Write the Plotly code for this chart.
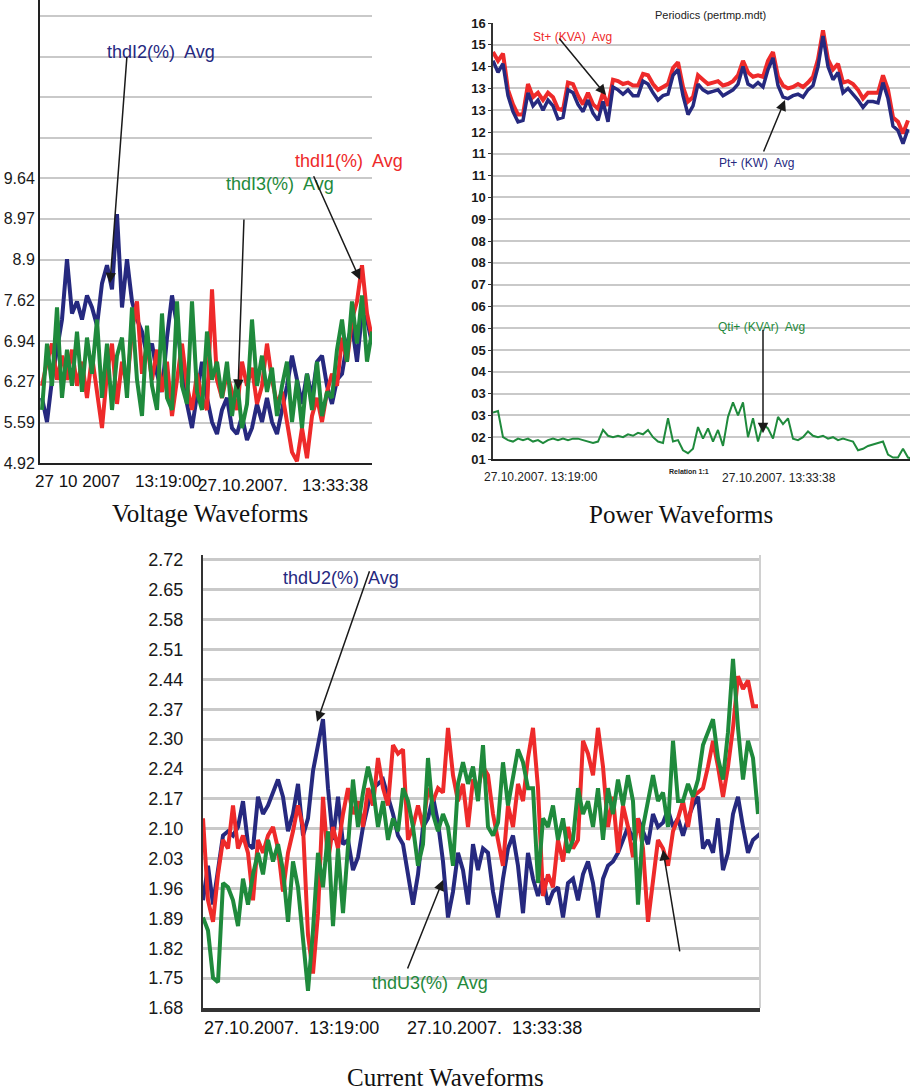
import plotly.graph_objects as go

W, H = 914, 1092
NAVY = "#26297f"
RED = "#ee2a2a"
GREEN = "#1f8a3c"
GRID = "#c9c9c9"
SANS = "Liberation Sans, Arial, sans-serif"
NARROW = "Liberation Sans Narrow, Arial Narrow, Liberation Sans, sans-serif"
SERIF = "Liberation Serif, Times New Roman, serif"

# ---------------- Voltage waveforms (thdI, %) ----------------
V_THDI2 = [6.0, 5.6, 6.3, 6.8, 7.3, 8.3, 7.4, 7.6, 7.3, 7.7, 7.5, 7.2, 7.9, 8.2, 7.8, 9.05, 7.5, 8.3, 7.6, 7.3,
           7.1, 6.7, 6.9, 6.4, 6.1, 7.0, 7.7, 7.2, 6.5, 5.9, 5.5, 6.1, 6.6, 6.0, 5.6, 5.4, 5.8, 6.0, 5.5, 5.4,
           5.7, 5.3, 5.5, 5.9, 5.6, 6.0, 5.6, 5.4, 5.8, 6.2, 6.7, 6.3, 5.9, 6.4, 6.0, 6.6, 6.7, 6.2, 5.9, 6.3,
           6.4, 6.9, 7.2, 6.6, 7.4, 7.3, 6.9]
V_THDI1 = [6.2, 6.6, 6.9, 6.3, 6.7, 6.3, 6.8, 6.2, 6.6, 6.0, 6.7, 6.1, 5.5, 6.4, 6.9, 5.9, 6.6, 6.2, 7.1, 7.6,
           6.4, 6.9, 6.3, 6.8, 6.1, 6.6, 5.7, 6.3, 6.9, 6.2, 5.8, 6.4, 6.0, 5.8, 7.8, 6.3, 6.0, 6.4, 6.1, 5.8,
           6.6, 6.2, 6.5, 5.9, 6.2, 6.9, 6.3, 5.9, 6.1, 5.6, 5.1, 4.95, 5.5, 5.0, 5.7, 6.0, 5.6, 6.1, 6.4, 6.2,
           7.0, 6.6, 7.3, 7.6, 8.2, 7.4, 7.0]
V_THDI3 = [5.8, 6.9, 6.2, 7.5, 6.0, 6.8, 6.2, 7.1, 6.1, 7.0, 6.4, 7.3, 6.0, 6.9, 5.8, 6.7, 7.0, 6.0, 7.5, 6.3,
           5.7, 7.2, 6.2, 5.8, 7.4, 6.0, 5.8, 7.6, 6.2, 5.9, 7.6, 6.1, 5.8, 7.1, 6.3, 6.6, 6.0, 6.6, 5.7, 6.3,
           5.5, 5.9, 7.3, 6.2, 6.7, 6.1, 6.5, 5.7, 6.2, 6.6, 5.6, 6.3, 5.5, 6.4, 5.8, 6.6, 5.7, 6.1, 6.0, 6.8,
           7.3, 6.6, 7.6, 6.9, 7.7, 6.6, 7.1]
V_TICKVALS = [4.92, 5.59, 6.27, 6.94, 7.62, 8.29, 8.97, 9.64, 10.31, 10.99, 11.66, 12.33]
V_TICKTEXT = ["4.92", "5.59", "6.27", "6.94", "7.62", "8.9", "8.97", "9.64", "", "", "", ""]
V_XLABELS = ["27 10 2007", "13:19:00", "27.10.2007.", "13:33:38"]

# ---------------- Power waveforms ----------------
P_ST = [15.0, 14.7, 14.95, 13.7, 13.2, 12.85, 12.85, 13.9, 13.45, 13.6, 13.35, 13.6, 13.45, 13.05, 13.0, 13.95,
        13.9, 13.5, 13.2, 13.6, 13.2, 13.05, 13.6, 13.15, 14.05, 14.0, 13.9, 13.95, 13.85, 13.85, 14.25, 14.2,
        13.9, 13.7, 13.8, 13.9, 14.45, 14.65, 13.8, 13.3, 13.45, 14.2, 14.05, 13.9, 13.95, 14.0, 13.85, 13.9,
        14.0, 14.2, 14.7, 14.3, 14.15, 14.2, 14.15, 14.7, 15.0, 14.15, 13.85, 13.75, 13.8, 13.9, 13.8, 13.95,
        14.15, 14.75, 15.75, 14.75, 14.4, 14.6, 13.95, 14.0, 13.9, 13.7, 13.4, 13.6, 13.6, 13.6, 14.2, 13.7,
        12.75, 12.6, 12.2, 12.65]
P_PT = [14.7, 14.3, 14.6, 13.5, 12.95, 12.6, 12.65, 13.6, 13.15, 13.35, 13.0, 13.35, 13.15, 12.7, 12.75, 13.7,
        13.6, 13.2, 12.95, 13.35, 12.9, 12.65, 13.3, 12.6, 13.8, 13.7, 13.55, 13.7, 13.5, 13.5, 14.0, 13.9,
        13.6, 13.35, 13.5, 13.55, 14.2, 14.4, 13.5, 12.85, 13.15, 13.9, 13.7, 13.6, 13.65, 13.7, 13.5, 13.6,
        13.7, 13.9, 14.5, 13.9, 13.8, 13.95, 13.8, 14.4, 14.8, 13.85, 13.45, 13.4, 13.5, 13.55, 13.45, 13.7,
        13.85, 14.5, 15.55, 14.5, 14.05, 14.3, 13.6, 13.75, 13.55, 13.35, 13.1, 13.3, 13.3, 13.25, 13.95, 13.4,
        12.45, 12.3, 11.85, 12.35]
P_QTI = [2.6, 2.65, 1.75, 1.65, 1.6, 1.7, 1.65, 1.7, 1.6, 1.65, 1.55, 1.65, 1.7, 1.65, 1.7, 1.65, 1.7, 1.7,
         1.65, 1.6, 1.55, 1.6, 2.0, 1.8, 1.75, 1.8, 1.75, 1.85, 1.8, 1.9, 1.85, 2.0, 1.75, 1.6, 1.55, 2.4,
         1.6, 1.65, 1.3, 1.2, 1.35, 2.1, 1.7, 2.05, 1.6, 2.0, 1.45, 2.45, 2.95, 2.5, 2.95, 1.75, 2.4, 1.6,
         2.2, 2.05, 1.7, 2.45, 2.2, 2.4, 1.7, 1.65, 1.75, 1.95, 1.8, 1.75, 1.8, 1.7, 1.75, 1.65, 1.7, 1.65,
         1.6, 1.3, 1.35, 1.45, 1.5, 1.55, 1.6, 1.15, 1.05, 1.05, 1.35, 1.05, 1.0]
P_TICKTEXT = ["01", "02", "03", "03", "04", "05", "06", "06", "07", "08", "08",
              "09", "10", "11", "11", "12", "13", "13", "14", "15", "16"]
P_TICKVALS = [1 + 0.75 * k for k in range(len(P_TICKTEXT))]
P_XLABELS = ["27.10.2007. 13:19:00", "27.10.2007. 13:33:38"]

# ---------------- Current waveforms (thdU, %) ----------------
C_THDU2 = [1.93, 2.01, 1.92, 2.00, 2.08, 2.09, 2.08, 2.10, 2.16, 2.06, 2.05, 2.17, 2.13, 2.15, 2.18, 2.21,
           2.17, 2.09, 2.13, 2.20, 2.08, 2.12, 2.23, 2.29, 2.35, 2.19, 2.07, 2.17, 2.06, 2.07, 2.00, 2.03,
           2.10, 2.15, 2.19, 2.20, 2.21, 2.17, 2.13, 2.08, 2.06, 1.99, 1.92, 1.99, 2.10, 2.12, 2.17, 2.11,
           2.02, 1.89, 1.95, 2.04, 2.00, 1.92, 2.06, 2.00, 2.05, 2.04, 1.95, 1.89, 1.98, 2.05, 2.08, 2.01,
           1.90, 2.04, 1.98, 1.94, 1.98, 1.92, 1.95, 1.96, 1.89, 1.97, 1.98, 1.93, 1.99, 2.02, 1.97, 1.89,
           1.98, 2.01, 2.02, 2.04, 2.07, 2.10, 2.07, 2.12, 2.09, 2.06, 2.13, 2.10, 2.11, 2.14, 2.10, 2.12,
           2.08, 2.12, 2.15, 2.17, 2.05, 2.07, 2.04, 2.12, 2.00, 2.04, 2.13, 2.17, 2.10, 2.04, 2.07, 2.08, 2.09]
C_THDU1 = [2.12, 1.93, 1.88, 1.99, 2.07, 2.05, 2.15, 2.05, 2.08, 2.04, 1.93, 2.07, 2.04, 2.08, 2.10, 2.05,
           1.95, 2.04, 2.09, 2.15, 2.10, 1.85, 1.76, 1.90, 2.17, 2.02, 2.10, 2.05, 2.13, 2.19, 2.13, 2.16,
           2.10, 2.19, 2.15, 2.26, 2.19, 2.15, 2.29, 2.27, 2.28, 2.07, 2.10, 2.15, 2.10, 2.19, 2.16, 2.19,
           2.18, 2.33, 2.22, 2.16, 2.20, 2.10, 2.21, 2.19, 2.24, 2.22, 2.13, 2.07, 2.01, 2.15, 2.10, 2.20,
           2.16, 2.26, 2.33, 2.19, 1.94, 1.99, 1.96, 2.07, 2.02, 2.10, 2.05, 2.07, 2.30, 2.27, 2.22, 2.33,
           2.24, 2.10, 2.17, 2.04, 2.15, 2.10, 2.03, 2.12, 2.05, 1.88, 1.98, 2.07, 2.05, 2.01, 2.09, 2.12,
           2.16, 2.10, 2.17, 2.18, 2.19, 2.24, 2.30, 2.24, 2.17, 2.24, 2.33, 2.45, 2.42, 2.44, 2.38, 2.38]
C_THDU3 = [1.89, 1.86, 1.75, 1.74, 1.97, 1.96, 1.93, 1.87, 1.98, 1.92, 1.99, 2.04, 1.99, 2.07, 2.02, 2.06,
           2.00, 1.88, 2.02, 1.96, 1.84, 1.72, 1.86, 2.04, 1.96, 2.09, 1.87, 2.05, 1.90, 2.07, 2.21, 2.10,
           2.18, 2.24, 2.19, 2.10, 2.16, 2.07, 2.12, 2.09, 2.19, 2.16, 2.10, 2.01, 2.06, 2.26, 2.13, 2.09,
           2.13, 2.10, 2.01, 2.20, 2.25, 2.20, 2.24, 2.16, 2.29, 2.10, 2.08, 2.11, 2.25, 2.15, 2.21, 2.28,
           2.25, 2.19, 2.19, 1.97, 2.12, 2.10, 2.15, 2.07, 2.12, 2.04, 2.07, 2.19, 2.13, 2.16, 2.10, 2.19,
           2.07, 2.19, 2.13, 2.21, 2.15, 2.22, 2.16, 1.92, 2.10, 2.16, 2.22, 2.16, 2.18, 2.10, 2.30, 2.16,
           2.16, 2.20, 2.17, 2.21, 2.29, 2.32, 2.35, 2.26, 2.21, 2.32, 2.49, 2.33, 2.21, 2.30, 2.26, 2.13]
C_TICKTEXT = ["1.68", "1.75", "1.82", "1.89", "1.96", "2.03", "2.10", "2.17",
              "2.24", "2.30", "2.37", "2.44", "2.51", "2.58", "2.65", "2.72"]
C_TICKVALS = [1.68 + 0.0693 * k for k in range(len(C_TICKTEXT))]
C_XLABELS = ["27.10.2007.  13:19:00", "27.10.2007.  13:33:38"]


def px(x):
    return x / W


def py(y):
    return 1 - y / H


def idx(s):
    return list(range(len(s)))


fig = go.Figure()

# Voltage traces
for ser, col in [(V_THDI2, NAVY), (V_THDI1, RED), (V_THDI3, GREEN)]:
    fig.add_trace(go.Scatter(x=idx(ser), y=ser, xaxis="x", yaxis="y", mode="lines",
                             line=dict(color=col, width=4), showlegend=False, hoverinfo="skip"))
# Power traces
fig.add_trace(go.Scatter(x=idx(P_QTI), y=P_QTI, xaxis="x2", yaxis="y2", mode="lines",
                         line=dict(color=GREEN, width=2), showlegend=False, hoverinfo="skip"))
fig.add_trace(go.Scatter(x=idx(P_ST), y=P_ST, xaxis="x2", yaxis="y2", mode="lines",
                         line=dict(color=RED, width=4), showlegend=False, hoverinfo="skip"))
fig.add_trace(go.Scatter(x=idx(P_PT), y=P_PT, xaxis="x2", yaxis="y2", mode="lines",
                         line=dict(color=NAVY, width=3.5), showlegend=False, hoverinfo="skip"))
# Current traces
for ser, col in [(C_THDU2, NAVY), (C_THDU1, RED), (C_THDU3, GREEN)]:
    fig.add_trace(go.Scatter(x=idx(ser), y=ser, xaxis="x3", yaxis="y3", mode="lines",
                             line=dict(color=col, width=4), showlegend=False, hoverinfo="skip"))

axis_common = dict(zeroline=False, fixedrange=True, automargin=False)

fig.update_layout(
    width=W, height=H, autosize=False,
    margin=dict(l=0, r=0, t=0, b=0, autoexpand=False),
    paper_bgcolor="white", plot_bgcolor="white",
    # Voltage
    xaxis=dict(domain=[px(40), px(372)], range=[-0.4, 66], anchor="y", showgrid=False,
               showline=True, linecolor="#222", linewidth=2, showticklabels=False, ticks="", **axis_common),
    yaxis=dict(domain=[py(463), 1], range=[4.92, 12.6], anchor="x", tickvals=V_TICKVALS,
               ticktext=V_TICKTEXT, showgrid=True, gridcolor=GRID, gridwidth=2,
               showline=True, linecolor="#222", linewidth=2, ticks="",
               tickfont=dict(family=SANS, size=16, color="#1a1a1a"), **axis_common),
    # Power
    xaxis2=dict(domain=[px(493), px(910)], range=[0, 83.4], anchor="y2", showgrid=False,
                showline=True, linecolor="#222", linewidth=2, showticklabels=False, ticks="", **axis_common),
    yaxis2=dict(domain=[py(459), py(23)], range=[1, 16], anchor="x2", tickvals=P_TICKVALS,
                ticktext=P_TICKTEXT, showgrid=True, gridcolor=GRID, gridwidth=1.5,
                showline=True, linecolor="#333", linewidth=1.5, ticks="outside", ticklen=3,
                tickcolor="#333",
                tickfont=dict(family=NARROW, size=13, color="#1a1a1a", weight="bold"), **axis_common),
    # Current
    xaxis3=dict(domain=[px(203), px(760)], range=[0, 111.4], anchor="y3", showgrid=False,
                showline=True, linecolor="#333", linewidth=4, showticklabels=False, ticks="", **axis_common),
    yaxis3=dict(domain=[py(1008), py(555)], range=[1.68, 2.731], anchor="x3", tickvals=C_TICKVALS,
                ticktext=C_TICKTEXT, showgrid=True, gridcolor=GRID, gridwidth=3,
                showline=True, linecolor="#333", linewidth=2, ticks="", ticklabelstandoff=14,
                tickfont=dict(family=SANS, size=18, color="#1a1a1a"), **axis_common),
)

# right border line of current panel
fig.add_shape(type="line", xref="paper", yref="paper", x0=px(760), x1=px(760), y0=py(1008), y1=py(555),
              line=dict(color="#d0d0d0", width=2))

ann = []


def text(x, y, s, size, color="#111", family=SANS, xanchor="center", weight="normal"):
    ann.append(dict(x=px(x), y=py(y), xref="paper", yref="paper", text=s, showarrow=False,
                    xanchor=xanchor, yanchor="middle",
                    font=dict(family=family, size=size, color=color, weight=weight)))


def arrow(xa, ya, hx, hy, ax, ay):
    ann.append(dict(x=hx, y=hy, xref=xa, yref=ya, ax=ax, ay=ay, text="", showarrow=True,
                    arrowhead=2, arrowsize=1.4, arrowwidth=1.5, arrowcolor="#1a1a1a"))


# Voltage texts
text(161, 52, "thdI2(%)  Avg", 18, NAVY)
text(349, 161, "thdI1(%)  Avg", 18, RED)
text(280, 184, "thdI3(%)  Avg", 18, GREEN)
arrow("x", "y", 13.6, 7.9, 17, -228)
arrow("x", "y", 63.6, 7.96, -47, -105)
arrow("x", "y", 39.2, 6.13, 6, -172)
text(33, 481, V_XLABELS[0], 17, xanchor="left")
text(133, 481, V_XLABELS[1], 17, xanchor="left")
text(196, 486, V_XLABELS[2], 17, xanchor="left")
text(300, 486, V_XLABELS[3], 17, xanchor="left")
text(210, 513, "Voltage Waveforms", 25, "#111", SERIF)

# Power texts
text(710, 15, "Periodics (pertmp.mdt)", 11, "#222", NARROW)
text(572, 37, "St+ (KVA)  Avg", 12, RED, NARROW)
text(756, 163, "Pt+ (KW)  Avg", 12, NAVY, NARROW)
text(761, 327, "Qti+ (KVAr)  Avg", 12, GREEN, NARROW)
arrow("x2", "y2", 22.6, 13.52, -48, -58)
arrow("x2", "y2", 58.4, 13.35, -22, 53)
arrow("x2", "y2", 54, 1.89, 0, -105)
text(541, 477, P_XLABELS[0], 12, "#222", NARROW)
text(779, 478, P_XLABELS[1], 12, "#222", NARROW)
text(689, 471, "Relation 1:1", 7, "#222", SANS, weight="bold")
text(681, 514, "Power Waveforms", 25, "#111", SERIF)

# Current texts
text(341, 578, "thdU2(%)  Avg", 18, NAVY)
text(430, 983, "thdU3(%)  Avg", 18, GREEN)
arrow("x3", "y3", 22.8, 2.344, 53, -152)
arrow("x3", "y3", 48, 1.977, -36, 90)
arrow("x3", "y3", 92, 2.047, 17, 103)
text(202, 1028, C_XLABELS[0], 18, xanchor="left")
text(405, 1028, C_XLABELS[1], 18, xanchor="left")
text(445, 1077, "Current Waveforms", 25, "#111", SERIF)

fig.update_layout(annotations=ann)

fig.write_html("out.html", config={"displayModeBar": False},
               post_script="document.body.style.margin='0';document.body.style.overflow='hidden';")
